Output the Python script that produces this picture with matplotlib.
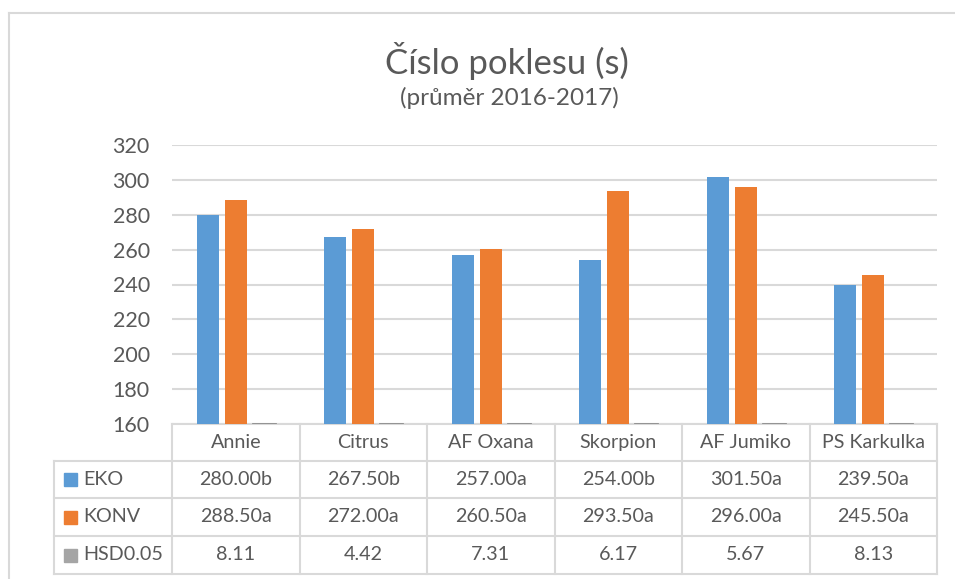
import matplotlib.pyplot as plt
import numpy as np
from matplotlib.lines import Line2D
from matplotlib.patches import Rectangle
import matplotlib.transforms as mtransforms

plt.rcParams['font.family'] = ['Lato', 'DejaVu Sans']

# data
odrudy = ['Annie', 'Citrus', 'AF Oxana', 'Skorpion', 'AF Jumiko', 'PS Karkulka']
eko = [280.00, 267.50, 257.00, 254.00, 301.50, 239.50]
konv = [288.50, 272.00, 260.50, 293.50, 296.00, 245.50]
hsd = [8.11, 4.42, 7.31, 6.17, 5.67, 8.13]
eko_pism = ['b', 'b', 'a', 'b', 'a', 'a']
konv_pism = ['a', 'a', 'a', 'a', 'a', 'a']
rady = ['EKO', 'KONV', 'HSD0.05']

barvy = ['#5B9BD5', '#ED7D31', '#A5A5A5']
text_c = '#595959'
mrizka = '#D9D9D9'

W, H = 955, 579
fig = plt.figure(figsize=(W / 100, H / 100), dpi=100)

# outer chart frame (top and left edge visible)
fig.add_artist(Line2D([9 / W, 9 / W], [0, 1 - 13 / H], color=mrizka, lw=1.5, transform=fig.transFigure))
fig.add_artist(Line2D([9 / W, 1], [1 - 13 / H, 1 - 13 / H], color=mrizka, lw=1.5, transform=fig.transFigure))

ax = fig.add_axes([172 / W, (H - 424) / H, (937 - 172) / W, (424 - 145) / H])

x = np.arange(len(odrudy))
w = 0.1725
step = 0.22
ymin, ymax = 160, 320

ax.bar(x - step, eko, w, color=barvy[0], zorder=3)
ax.bar(x, konv, w, color=barvy[1], zorder=3)
# HSD values lie below the axis minimum -> only a stub at the axis floor is visible
ax.bar(x + step, np.maximum(hsd, ymin), w, color=barvy[2], edgecolor='#8C8C8C', lw=2, zorder=3)

ax.set_xlim(-0.5, len(odrudy) - 0.5)
ax.set_ylim(ymin, ymax)
ax.set_yticks(np.arange(ymin, ymax + 1, 20))
ax.set_xticks([])
ax.tick_params(axis='y', length=0, labelsize=15.5, labelcolor=text_c, pad=16)
ax.grid(axis='y', color=mrizka, lw=1.5, zorder=0)
for s in ax.spines.values():
    s.set_visible(False)

# title
fig.text(507 / W, 1 - 61 / H, 'Číslo poklesu (s)', ha='center', va='center', fontsize=25, color=text_c)
fig.text(509 / W, 1 - 98 / H, '(průměr 2016-2017)', ha='center', va='center', fontsize=17.5, color=text_c)

# data table below the axis
tr = mtransforms.blended_transform_factory(ax.transData, ax.transAxes)
ph = 424 - 145
radky_y = [0, -37 / ph, -74 / ph, -112 / ph, -150 / ph]
lab_x = -0.5 - (172 - 54) / 765 * 6
kw = dict(color=mrizka, lw=1.5, clip_on=False, transform=tr, zorder=2)

ax.add_line(Line2D([-0.5, 5.5], [0, 0], **kw))
for y in radky_y[1:]:
    ax.add_line(Line2D([lab_x, 5.5], [y, y], **kw))
ax.add_line(Line2D([lab_x, lab_x], [radky_y[1], radky_y[-1]], **kw))
for b in np.arange(-0.5, 6.0, 1.0):
    ax.add_line(Line2D([b, b], [0, radky_y[-1]], **kw))

fs = 14.2
for i, n in enumerate(odrudy):
    ax.text(i, (radky_y[0] + radky_y[1]) / 2, n, ha='center', va='center', fontsize=fs,
            color=text_c, transform=tr, clip_on=False)
hodnoty = [[f'{v:.2f}{p}' for v, p in zip(eko, eko_pism)],
           [f'{v:.2f}{p}' for v, p in zip(konv, konv_pism)],
           [f'{v:.2f}' for v in hsd]]
for r in range(3):
    yc = (radky_y[r + 1] + radky_y[r + 2]) / 2
    for i in range(len(odrudy)):
        ax.text(i, yc, hodnoty[r][i], ha='center', va='center', fontsize=fs,
                color=text_c, transform=tr, clip_on=False)
    sq = 13 / 765 * 6
    sq_h = 13 / ph
    ax.add_patch(Rectangle((lab_x + 10 / 765 * 6, yc - sq_h / 2), sq, sq_h, color=barvy[r],
                           transform=tr, clip_on=False))
    ax.text(lab_x + 29 / 765 * 6, yc, rady[r], ha='left', va='center', fontsize=fs,
            color=text_c, transform=tr, clip_on=False)

fig.savefig('out.png', dpi=100)
